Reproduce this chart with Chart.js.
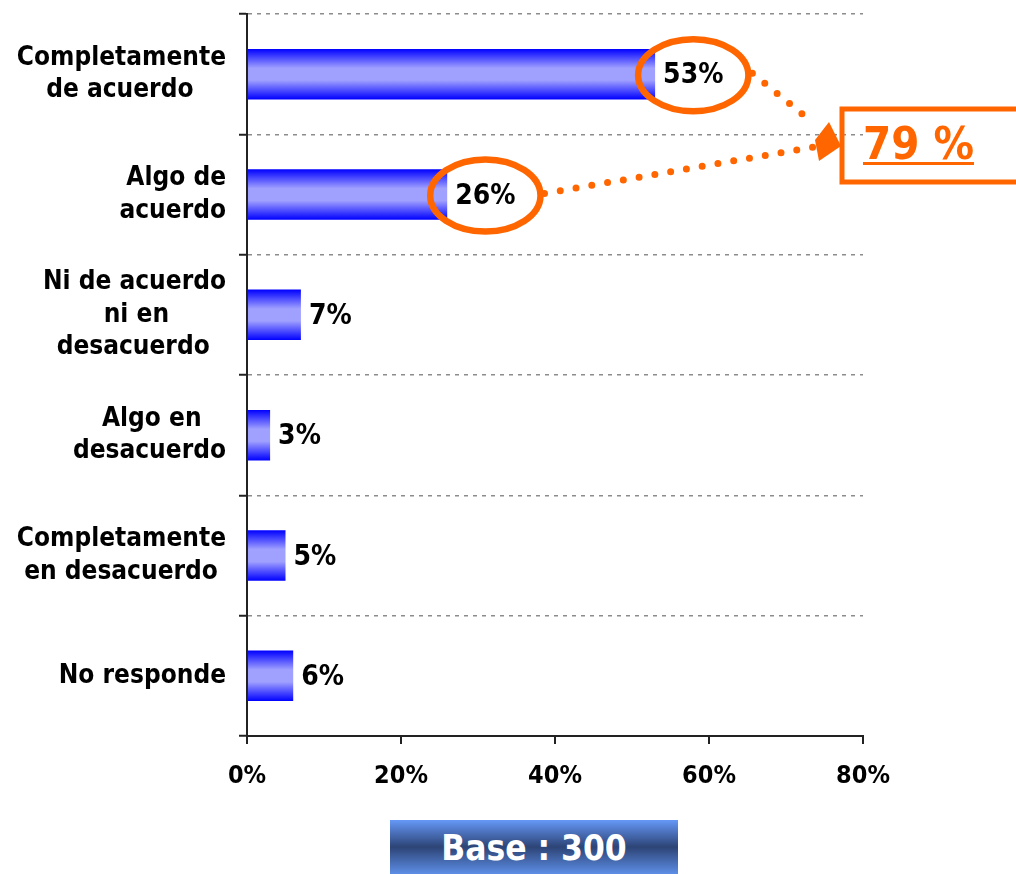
<!DOCTYPE html>
<html>
<head>
<meta charset="utf-8">
<script src="https://cdn.jsdelivr.net/npm/chart.js@4"></script>
<style>
  body { margin: 0; background: #fff; }
  #wrap { position: relative; width: 1016px; height: 874px; }
  #base {
    position: absolute; left: 390px; top: 820px; width: 288px; height: 54px;
    background: linear-gradient(#6598f7 0%, #2d4476 50%, #5d8ee6 100%);
    color: #fff; font: bold 35px "DejaVu Sans Condensed", "DejaVu Sans", sans-serif;
    text-align: center; line-height: 56px;
  }
</style>
</head>
<body>
<div id="wrap">
  <canvas id="chart" width="1016" height="874"></canvas>
  <div id="base">Base : 300</div>
</div>
<script>
// data
var categories = [
  ["Completamente", "de acuerdo    "],
  ["Algo de", "acuerdo"],
  ["Ni de acuerdo", "ni en       ", "desacuerdo  "],
  ["Algo en   ", "desacuerdo"],
  ["Completamente", "en desacuerdo "],
  ["No responde"]
];
var values = [53, 26, 7, 3, 5, 6];
var xTicks = [0, 20, 40, 60, 80];
var highlighted = [0, 1];   // bars circled and summed

var ORANGE = "#ff6600";
var FONT = "'DejaVu Sans Condensed', 'DejaVu Sans'";

function barGradient(ctx) {
  var chart = ctx.chart;
  var y = chart.scales.y;
  if (!y || !chart.chartArea) return "#0000ff";
  var center = y.getPixelForValue(ctx.dataIndex);
  var h = (chart.chartArea.bottom - chart.chartArea.top) / categories.length * 0.42;
  var g = chart.ctx.createLinearGradient(0, center - h / 2, 0, center + h / 2);
  g.addColorStop(0, "#0000ff");
  g.addColorStop(0.38, "#a0a0ff");
  g.addColorStop(0.62, "#a0a0ff");
  g.addColorStop(1, "#0000ff");
  return g;
}

// value labels next to each bar
var valueLabels = {
  id: "valueLabels",
  afterDatasetsDraw: function(chart) {
    var ctx = chart.ctx;
    var bars = chart.getDatasetMeta(0).data;
    ctx.save();
    ctx.font = "bold 28px " + FONT;
    ctx.fillStyle = "#000";
    ctx.textBaseline = "middle";
    bars.forEach(function(bar, i) {
      ctx.fillText(values[i] + "%", bar.x + 8, bar.y + 2);
    });
    ctx.restore();
  }
};

// orange circles, dotted arrows and the total box
var callout = {
  id: "callout",
  afterDraw: function(chart) {
    var ctx = chart.ctx;
    var bars = chart.getDatasetMeta(0).data;
    var area = chart.chartArea;
    var bx = area.right - 23, by = 146;
    var total = 0;

    ctx.save();
    ctx.font = "bold 28px " + FONT;
    var ends = [[-28, -24], [-26, 1]];
    highlighted.forEach(function(i, k) {
      total += values[i];
      var bar = bars[i];
      var w = ctx.measureText(values[i] + "%").width;
      var cx = bar.x + 8 + w / 2, cy = bar.y + 1;
      var rx = w / 2 + 25, ry = 36;
      ctx.strokeStyle = ORANGE;
      ctx.lineWidth = 6.5;
      ctx.beginPath();
      ctx.ellipse(cx, cy, rx, ry, 0, 0, Math.PI * 2);
      ctx.stroke();

      // dotted line to the arrow
      ctx.lineWidth = 7;
      ctx.lineCap = "round";
      ctx.setLineDash([0, 16]);
      ctx.beginPath();
      ctx.moveTo(cx + rx + 4, cy - 2);
      ctx.lineTo(bx + ends[k][0], by + ends[k][1]);
      ctx.stroke();
      ctx.setLineDash([]);
    });

    // arrow head
    ctx.fillStyle = ORANGE;
    ctx.beginPath();
    ctx.moveTo(bx - 11, by - 24);
    ctx.lineTo(bx + 1, by);
    ctx.lineTo(bx - 21, by + 15);
    ctx.lineTo(bx - 25, by - 6);
    ctx.closePath();
    ctx.fill();

    // total box
    ctx.strokeStyle = ORANGE;
    ctx.lineWidth = 5;
    ctx.strokeRect(bx + 2, 109, 190, 73);
    ctx.font = "bold 45px " + FONT;
    ctx.textBaseline = "alphabetic";
    var txt = total + " %";
    var tw = ctx.measureText(txt).width;
    ctx.fillText(txt, bx + 23, 159);
    ctx.fillRect(bx + 23, 162, tw, 3);
    ctx.restore();
  }
};

new Chart(document.getElementById("chart"), {
  type: "bar",
  data: {
    labels: categories,
    datasets: [{
      data: values,
      backgroundColor: barGradient,
      borderWidth: 0,
      categoryPercentage: 1,
      barPercentage: 0.42
    }]
  },
  options: {
    indexAxis: "y",
    responsive: false,
    animation: false,
    layout: { padding: { top: 0, right: 153, left: 0, bottom: 0 } },
    plugins: { legend: { display: false }, tooltip: { enabled: false } },
    scales: {
      x: {
        min: xTicks[0],
        max: xTicks[xTicks.length - 1],
        afterBuildTicks: function(scale) {
          scale.ticks = xTicks.map(function(v) { return { value: v }; });
        },
        ticks: {
          callback: function(v) { return v + "%"; },
          color: "#000",
          font: { family: FONT, size: 25, weight: "bold" },
          padding: 17,
          maxRotation: 0
        },
        grid: { drawOnChartArea: false, color: "#222", tickLength: 8, lineWidth: 2 },
        border: { color: "#222", width: 2 },
        afterFit: function(scale) { scale.height = 138; }
      },
      y: {
        ticks: {
          color: "#000",
          font: { family: FONT, size: 26, weight: "bold", lineHeight: 1.25 },
          padding: 13
        },
        grid: {
          offset: true,
          color: "#8c8c8c",
          lineWidth: 1.5,
          tickColor: "#222",
          tickLength: 8,
          tickWidth: 2,
          tickBorderDash: []
        },
        border: { color: "#222", width: 2, dash: [4, 5] },
        afterFit: function(scale) {
          scale.width = 247;
          scale.paddingTop = 14;
          scale.paddingBottom = 0;
        }
      }
    }
  },
  plugins: [valueLabels, callout]
});
</script>
</body>
</html>
